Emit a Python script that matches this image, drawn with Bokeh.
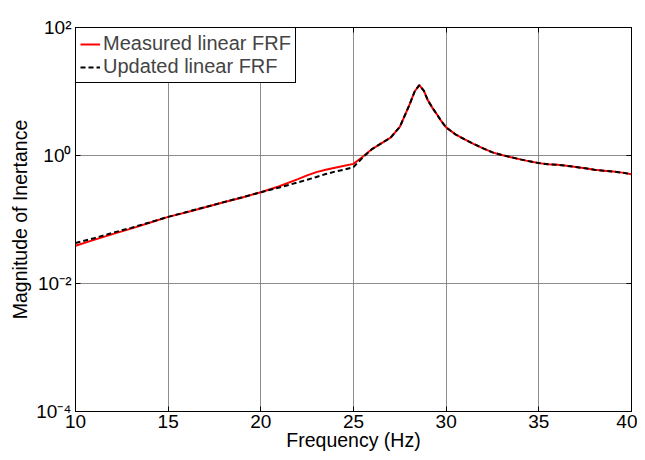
from bokeh.plotting import figure
from bokeh.models import (FixedTicker, LogAxis, LinearAxis, Legend, LegendItem,
                          CustomJSTickFormatter)
from bokeh.embed import file_html
from bokeh.resources import INLINE

freq = [10, 11, 12, 13, 14, 15, 16, 17, 18, 19, 20, 21, 22, 22.5, 23, 23.5, 24, 24.5,
        25, 25.5, 26, 26.5, 27, 27.5, 28, 28.3, 28.55, 28.8, 29.0, 29.25, 29.5, 29.75,
        30, 30.5, 31, 31.5, 32, 32.5, 33, 33.5, 34, 34.5, 35, 35.5, 36, 36.5, 37, 37.5,
        38, 38.5, 39, 39.5, 40]

measured = [0.039, 0.048, 0.059, 0.072, 0.089, 0.110, 0.130, 0.155, 0.186, 0.221, 0.267,
            0.331, 0.427, 0.49, 0.55, 0.60, 0.645, 0.69, 0.74, 0.955, 1.26, 1.55, 1.9, 2.8,
            6.0, 10.0, 12.6, 10.2, 7.4, 5.6, 4.4, 3.4, 2.75, 2.14, 1.78, 1.51, 1.29, 1.12,
            1.02, 0.94, 0.87, 0.81, 0.76, 0.73, 0.716, 0.69, 0.66, 0.63, 0.60, 0.58, 0.56,
            0.54, 0.51]

updated = [0.043, 0.051, 0.062, 0.074, 0.090, 0.110, 0.131, 0.156, 0.187, 0.222, 0.267,
           0.316, 0.38, 0.417, 0.462, 0.513, 0.56, 0.60, 0.66, 0.93, 1.26, 1.55, 1.9, 2.8,
           6.0, 10.0, 12.6, 10.2, 7.4, 5.6, 4.4, 3.4, 2.75, 2.14, 1.78, 1.51, 1.29, 1.12,
           1.02, 0.94, 0.87, 0.81, 0.76, 0.73, 0.716, 0.69, 0.66, 0.63, 0.60, 0.58, 0.56,
           0.54, 0.51]

x_ticks = [10, 15, 20, 25, 30, 35, 40]
y_ticks = [1e-4, 1e-2, 1e0, 1e2]
y_tick_labels = {1e-4: "10\u207b\u2074", 1e-2: "10\u207b\u00b2", 1e0: "10\u2070", 1e2: "10\u00b2"}

FONT = "Liberation Sans"

p = figure(width=637, height=456,
           x_range=(10, 40), y_range=(1e-4, 1e2), y_axis_type="log",
           output_backend="svg", toolbar_location=None,
           min_border_left=75, min_border_right=6, min_border_top=27, min_border_bottom=45)

p.outline_line_color = "black"
p.outline_line_width = 1
p.outline_line_alpha = 1

r1 = p.line(freq, measured, line_color="#ff0000", line_width=2)
r2 = p.line(freq, updated, line_color="black", line_width=2, line_dash="5 3")

for ax in (p.xaxis[0], p.yaxis[0]):
    ax.axis_line_color = "black"
    ax.major_tick_in = 5
    ax.major_tick_out = 0
    ax.minor_tick_in = 0
    ax.minor_tick_out = 0
    ax.major_tick_line_color = "black"
    ax.major_label_text_font = FONT
    ax.major_label_text_font_size = "19px"
    ax.major_label_text_color = "black"
    ax.axis_label_text_font = FONT
    ax.axis_label_text_font_size = "19.5px"
    ax.axis_label_text_font_style = "normal"
    ax.axis_label_text_color = "black"

p.xaxis[0].ticker = FixedTicker(ticks=x_ticks)
p.yaxis[0].ticker = FixedTicker(ticks=y_ticks)
p.yaxis[0].major_label_overrides = y_tick_labels
p.xaxis[0].axis_label = "Frequency (Hz)"
p.yaxis[0].axis_label = "Magnitude of Inertance"
p.xaxis[0].major_label_standoff = 3
p.xaxis[0].axis_label_standoff = -2
p.yaxis[0].major_label_standoff = 4
p.yaxis[0].axis_label_standoff = 2

top_ax = LinearAxis(ticker=FixedTicker(ticks=x_ticks), formatter=CustomJSTickFormatter(code="return ''"),
                    major_tick_in=5, major_tick_out=0, minor_tick_in=0, minor_tick_out=0,
                    axis_line_color="black", major_tick_line_color="black")
right_ax = LogAxis(ticker=FixedTicker(ticks=y_ticks), formatter=CustomJSTickFormatter(code="return ''"),
                   major_tick_in=5, major_tick_out=0, minor_tick_in=0, minor_tick_out=0,
                   axis_line_color="black", major_tick_line_color="black")
p.add_layout(top_ax, "above")
p.add_layout(right_ax, "right")

p.xgrid.ticker = FixedTicker(ticks=x_ticks)
p.ygrid.ticker = FixedTicker(ticks=y_ticks)
for g in (p.xgrid[0], p.ygrid[0]):
    g.grid_line_color = "#808080"
    g.grid_line_width = 1
    g.grid_line_alpha = 0.9

legend = Legend(items=[LegendItem(label="Measured linear FRF", renderers=[r1]),
                       LegendItem(label="Updated linear FRF", renderers=[r2])],
                location="top_left", margin=0, padding=4, spacing=0,
                glyph_width=20, glyph_height=22, label_height=22, label_standoff=3,
                label_text_font=FONT, label_text_font_size="20px",
                border_line_color="black", border_line_width=1, border_line_alpha=1,
                background_fill_color="white", background_fill_alpha=1)
p.add_layout(legend)

open("out.html", "w").write(file_html(p, INLINE))
